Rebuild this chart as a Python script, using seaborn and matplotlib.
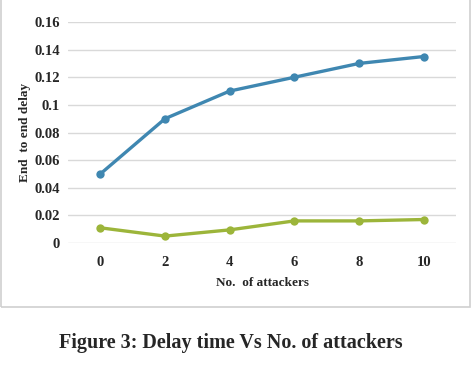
import matplotlib
matplotlib.use('Agg')
from matplotlib import pyplot as plt
from matplotlib.patches import Rectangle
import seaborn as sns
import pandas as pd

# data
attackers = [0, 2, 4, 6, 8, 10]
delay_blue = [0.050, 0.090, 0.110, 0.120, 0.130, 0.135]
delay_green = [0.011, 0.005, 0.0095, 0.016, 0.016, 0.017]
y_ticks = [0, 0.02, 0.04, 0.06, 0.08, 0.1, 0.12, 0.14, 0.16]
y_tick_labels = ['0', '0.02', '0.04', '0.06', '0.08', '0.1', '0.12', '0.14', '0.16']

sns.set_style('white')
plt.rcParams['font.family'] = ['Liberation Serif', 'DejaVu Serif']
plt.rcParams['font.weight'] = 'bold'

df = pd.DataFrame({
    'pos': list(range(len(attackers))) * 2,
    'delay': delay_blue + delay_green,
    'series': ['blue'] * len(attackers) + ['green'] * len(attackers),
})

fig = plt.figure(figsize=(4.72, 3.78), dpi=100)
ax = fig.add_axes([68 / 472, 135 / 378, 388 / 472, 221 / 378])

sns.lineplot(data=df, x='pos', y='delay', hue='series',
             palette={'blue': '#3F87B1', 'green': '#9CB53A'},
             marker='o', markersize=6, markeredgewidth=0,
             linewidth=2.4, legend=False, ax=ax)

ax.set_xlim(-0.5, len(attackers) - 0.5)
ax.set_ylim(0, 0.16)
ax.set_xticks(range(len(attackers)))
ax.set_xticklabels([str(a) for a in attackers])
ax.set_yticks(y_ticks)
ax.set_yticklabels(y_tick_labels)
ax.tick_params(length=0, labelsize=10.5)
ax.tick_params(axis='x', pad=9)
ax.tick_params(axis='y', pad=6)
for lbl in ax.get_xticklabels() + ax.get_yticklabels():
    lbl.set_fontweight('bold')
ax.yaxis.grid(True, color='#d9d9d9', linewidth=1)
ax.set_axisbelow(True)
for s in ax.spines.values():
    s.set_visible(False)

ax.set_xlabel('No.  of attackers', fontsize=9.5, fontweight='bold', labelpad=6)
ax.set_ylabel('End  to end delay', fontsize=9.5, fontweight='bold', labelpad=2)

# chart border
fig.patches.append(Rectangle((1 / 472, 71 / 378), 469 / 472, 310 / 378,
                             transform=fig.transFigure, fill=False,
                             edgecolor='#d0d0d0', linewidth=1.2))

fig.text(0.49, 1 - 343 / 378, 'Figure 3: Delay time Vs No. of attackers',
         ha='center', va='center', fontsize=14.5, fontweight='bold')

fig.savefig('out.png', dpi=100, facecolor='white')
